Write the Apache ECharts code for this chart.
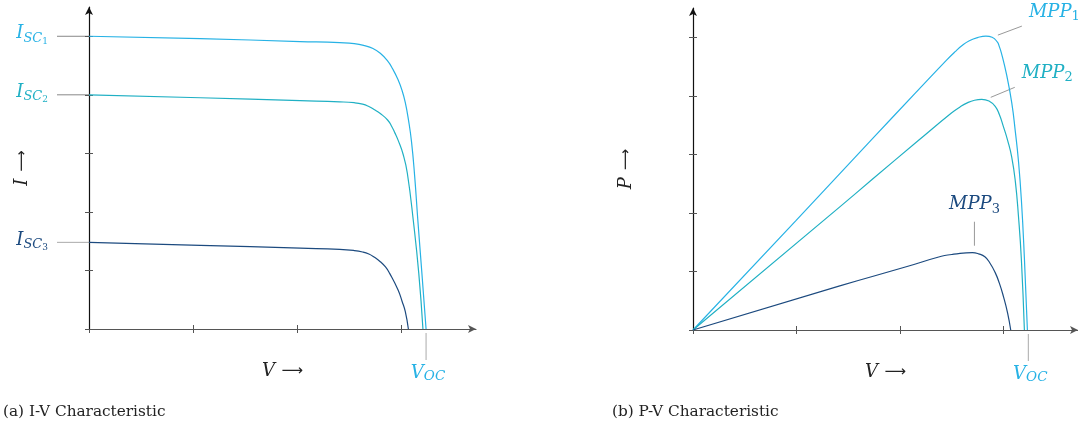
<!DOCTYPE html>
<html><head><meta charset="utf-8">
<script src="https://cdn.jsdelivr.net/npm/echarts@6/dist/echarts.min.js"></script>
<style>html,body{margin:0;padding:0;background:#fff}#c{width:1078px;height:428px}</style>
</head><body><div id="c"></div>
<script>
// ---------- data ----------
// I-V curves: [V, I]
const ivCurve1 = [[0,5.0],[1.07,4.96],[2.03,4.91],[2.41,4.89],[2.55,4.875],[2.65,4.84],[2.73,4.79],[2.80,4.71],[2.87,4.58],[2.92,4.44],[2.97,4.26],[3.01,4.07],[3.04,3.87],[3.07,3.58],[3.10,3.20],[3.13,2.62],[3.16,1.88],[3.20,0.95],[3.24,0]];
const ivCurve2 = [[0,4.0],[1.07,3.95],[2.03,3.90],[2.41,3.88],[2.55,3.865],[2.63,3.84],[2.69,3.80],[2.74,3.75],[2.80,3.68],[2.87,3.57],[2.91,3.46],[2.94,3.35],[2.97,3.23],[3.02,2.98],[3.06,2.66],[3.12,1.81],[3.17,0.95],[3.21,0]];
const ivCurve3 = [[0,1.48],[1.07,1.43],[2.03,1.38],[2.41,1.36],[2.55,1.34],[2.63,1.315],[2.69,1.28],[2.74,1.23],[2.80,1.15],[2.85,1.06],[2.89,0.95],[2.97,0.67],[3.01,0.47],[3.04,0.30],[3.07,0]];
// P-V curves: [V, P]
const pvCurve1 = [[0,0],[0.99,1.86],[1.73,3.26],[2.15,4.05],[2.45,4.61],[2.53,4.75],[2.60,4.86],[2.67,4.94],[2.75,4.995],[2.83,5.02],[2.89,5.00],[2.94,4.92],[2.96,4.84],[2.98,4.73],[3.03,4.36],[3.08,3.88],[3.115,3.38],[3.144,2.90],[3.173,2.22],[3.202,1.23],[3.231,0]];
const pvCurve2 = [[0,0],[1.41,2.09],[1.73,2.57],[2.18,3.24],[2.50,3.71],[2.58,3.81],[2.65,3.88],[2.72,3.925],[2.79,3.94],[2.86,3.91],[2.92,3.82],[2.96,3.68],[3.00,3.47],[3.04,3.24],[3.08,2.95],[3.115,2.53],[3.144,1.96],[3.173,1.20],[3.202,0]];
const pvCurve3 = [[0,0],[1.41,0.75],[2.06,1.08],[2.40,1.26],[2.50,1.29],[2.58,1.31],[2.64,1.318],[2.70,1.32],[2.76,1.30],[2.82,1.25],[2.87,1.14],[2.92,0.98],[2.96,0.80],[3.00,0.57],[3.04,0.29],[3.07,0]];
const iscValues = [5.0, 4.0, 1.48];
const vocValue = 3.24;
const xTickValues = [0, 1, 2, 3];
const yTickValues = [1, 2, 3, 4, 5];
const captions = ['(a) I-V Characteristic', '(b) P-V Characteristic'];

// ---------- style ----------
const C1 = '#27b2e5', C2 = '#20b0c4', C3 = '#1c4a7f';
const COLORS = [C1, C2, C3];
const MATH = "'DejaVu Serif', 'Liberation Serif', serif";
const X_MAX = 3.72, Y_MAX = 5.5;

const nameRich = {
  v: {fontFamily: MATH, fontStyle: 'italic', fontSize: 18, color: '#222'},
  a: {fontFamily: "'DejaVu Sans', sans-serif", fontSize: 15, color: '#222'}
};
const tickStyle = {color: '#555', width: 1};

function mainX(g) {
  return {gridIndex: g, type: 'value', min: 0, max: X_MAX, interval: 1, position: 'bottom',
    axisLine: {show: true, onZero: false, symbol: ['none', 'arrow'], symbolSize: [6, 8], lineStyle: {color: '#555', width: 1.2}},
    axisTick: {show: true, inside: false, length: 4, customValues: xTickValues, lineStyle: tickStyle},
    axisLabel: {show: false}, splitLine: {show: false},
    name: '{v|V}  {a|⟶}', nameLocation: 'middle', nameGap: 33, nameTextStyle: {rich: nameRich}};
}
function overlayX(g) {
  return {gridIndex: g, type: 'value', min: 0, max: X_MAX, interval: 1, position: 'bottom',
    axisLine: {show: false, onZero: false},
    axisTick: {show: true, inside: true, length: 4, customValues: xTickValues.filter(v => v > 0), lineStyle: tickStyle},
    axisLabel: {show: false}, splitLine: {show: false}};
}
function mainY(g, letter) {
  return {gridIndex: g, type: 'value', min: 0, max: Y_MAX, interval: 1, position: 'left',
    axisLine: {show: true, onZero: false, symbol: ['none', 'arrow'], symbolSize: [6, 8], lineStyle: {color: '#111', width: 1.2}},
    axisTick: {show: true, inside: false, length: 4, customValues: [0].concat(yTickValues), lineStyle: tickStyle},
    axisLabel: {show: false}, splitLine: {show: false},
    name: '{v|' + letter + '}  {a|⟶}', nameLocation: 'middle', nameGap: 58, nameRotate: 90, nameTextStyle: {rich: nameRich}};
}
function overlayY(g) {
  return {gridIndex: g, type: 'value', min: 0, max: Y_MAX, interval: 1, position: 'left',
    axisLine: {show: false, onZero: false},
    axisTick: {show: true, inside: true, length: 4, customValues: yTickValues, lineStyle: tickStyle},
    axisLabel: {show: false}, splitLine: {show: false}};
}
function lineSeries(data, xi, yi, color) {
  return {type: 'line', xAxisIndex: xi, yAxisIndex: yi, data: data, showSymbol: false, symbol: 'none',
          smooth: 0.5, silent: true, lineStyle: {color: color, width: 1.2}};
}

const leftBox = {left: 89, top: 7, width: 387, height: 322};
const rightBox = {left: 693, top: 8, width: 387, height: 322};
const chart = echarts.init(document.getElementById('c'), null, {renderer: 'canvas'});
chart.setOption({
  animation: false,
  backgroundColor: '#fff',
  grid: [leftBox, rightBox, Object.assign({}, leftBox), Object.assign({}, rightBox)],
  xAxis: [mainX(0), mainX(1), overlayX(2), overlayX(3)],
  yAxis: [mainY(0, 'I'), mainY(1, 'P'), overlayY(2), overlayY(3)],
  series: [
    lineSeries(ivCurve1, 0, 0, C1),
    lineSeries(ivCurve2, 0, 0, C2),
    lineSeries(ivCurve3, 0, 0, C3),
    lineSeries(pvCurve1, 1, 1, C1),
    lineSeries(pvCurve2, 1, 1, C2),
    lineSeries(pvCurve3, 1, 1, C3)
  ]
});

// ---------- annotations ----------
const px = (g, pt) => chart.convertToPixel({xAxisIndex: g, yAxisIndex: g}, pt);
const labelRich = {
  m: {fontFamily: MATH, fontStyle: 'italic', fontSize: 18, verticalAlign: 'top', padding: [0, 0, 0, 0]},
  s: {fontFamily: MATH, fontStyle: 'italic', fontSize: 13, verticalAlign: 'top', padding: [7, 0, 0, 0]},
  ss: {fontFamily: MATH, fontSize: 9, verticalAlign: 'top', padding: [12, 0, 0, 0]},
  o: {fontFamily: MATH, fontStyle: 'italic', fontSize: 13.5, verticalAlign: 'top', padding: [4.5, 0, 0, 0]},
  p: {fontFamily: MATH, fontSize: 13, verticalAlign: 'top', padding: [7, 0, 0, 0]}
};
const graphics = [];
iscValues.forEach((v, i) => {
  const p = px(0, [0, v]);
  graphics.push({type: 'line', shape: {x1: p[0] - 32, y1: p[1], x2: p[0], y2: p[1]}, style: {stroke: i === 2 ? '#aaa' : '#888', lineWidth: 1}, silent: true});
  graphics.push({type: 'text', style: {text: '{m|I}{s|SC}{ss|' + (i + 1) + '}', rich: labelRich, x: p[0] - 41, y: p[1] - 11.5, align: 'right', verticalAlign: 'top', fill: COLORS[i]}, silent: true});
});
[0, 1].forEach(g => {
  const p = px(g, [vocValue, 0]);
  graphics.push({type: 'line', shape: {x1: p[0], y1: p[1] + 4, x2: p[0], y2: p[1] + 31}, style: {stroke: '#aaa', lineWidth: 1}, silent: true});
  graphics.push({type: 'text', style: {text: '{m|V}{o|OC}', rich: labelRich, x: p[0] + 2, y: p[1] + 35.5, align: 'center', verticalAlign: 'top', fill: C1}, silent: true});
});
function peakOf(arr) { return arr.reduce((a, b) => (b[1] > a[1] ? b : a)); }
const mppDefs = [
  {curve: pvCurve1, line: [12, -1, 36, -10], label: [43, -32.5], align: 'left'},
  {curve: pvCurve2, line: [9, -2, 33, -12], label: [40, -35], align: 'left'},
  {curve: pvCurve3, line: [2, -7, 2, -31], label: [2, -57], align: 'center'}
];
mppDefs.forEach((d, i) => {
  const p = px(1, peakOf(d.curve));
  graphics.push({type: 'line', shape: {x1: p[0] + d.line[0], y1: p[1] + d.line[1], x2: p[0] + d.line[2], y2: p[1] + d.line[3]}, style: {stroke: '#999', lineWidth: 1}, silent: true});
  graphics.push({type: 'text', style: {text: '{m|MPP}{p|' + (i + 1) + '}', rich: labelRich, x: p[0] + d.label[0], y: p[1] + d.label[1], align: d.align, verticalAlign: 'top', fill: COLORS[i]}, silent: true});
});
graphics.push({type: 'text', style: {text: captions[0], x: 3, y: 412, verticalAlign: 'middle', fontFamily: "'DejaVu Serif', serif", fontSize: 15.3, fill: '#222'}, silent: true});
graphics.push({type: 'text', style: {text: captions[1], x: 612, y: 412, verticalAlign: 'middle', fontFamily: "'DejaVu Serif', serif", fontSize: 15.3, fill: '#222'}, silent: true});
chart.setOption({graphic: graphics});
</script>
</body></html>
